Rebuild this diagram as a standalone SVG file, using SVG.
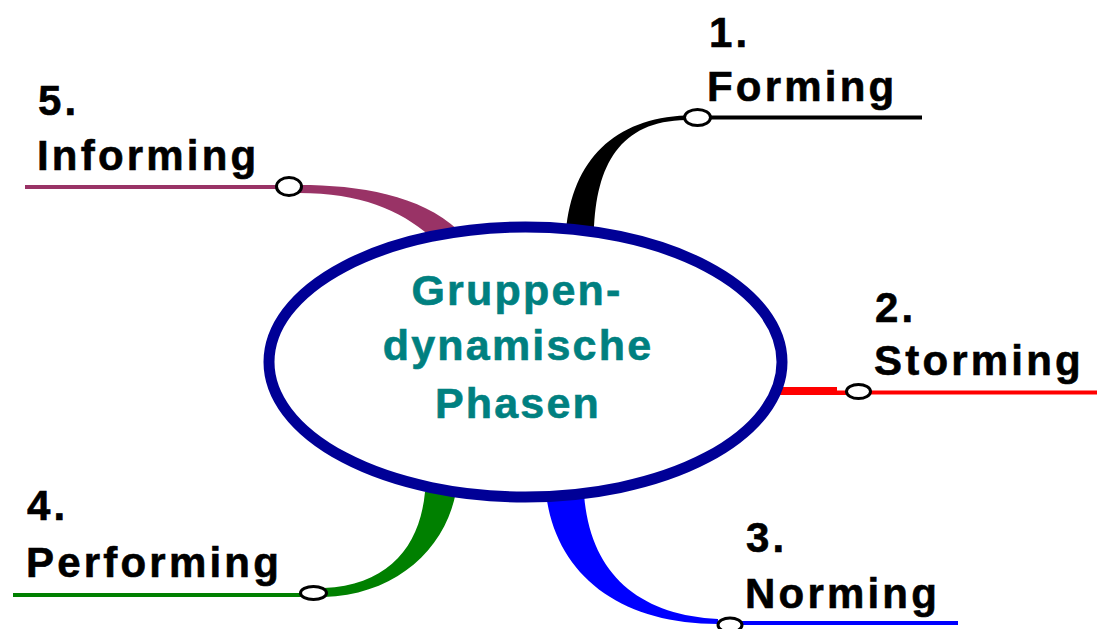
<svg xmlns="http://www.w3.org/2000/svg" width="1097" height="629" viewBox="0 0 1097 629">
  <style>
    .label { font-family: "Liberation Sans", Arial, sans-serif; font-weight: bold; font-size: 42px; letter-spacing: 3.2px; fill: #000000; stroke: #000000; stroke-width: 0.6px; }
    .title { font-family: "Liberation Sans", Arial, sans-serif; font-weight: bold; font-size: 43px; letter-spacing: 2.2px; fill: #008080; stroke: #008080; stroke-width: 0.6px; text-anchor: middle; }
    .port { fill: #ffffff; stroke: #000000; stroke-width: 3; }
    .rule { stroke-width: 4; fill: none; }
    .branch { stroke: none; }
  </style>
  <rect width="1097" height="629" fill="#ffffff"/>

  <!-- tapered branches and the lines under each phase label -->
  <g id="connectors">
    <!-- 1. Forming -->
    <path class="branch" fill="#000000" d="M566,232 C572,160 615,118 686,115.5 L686,120 C620,121 596,165 594,232 Z"/>
    <line class="rule" stroke="#000000" x1="705" y1="117.5" x2="922" y2="117.5"/>
    <!-- 2. Storming -->
    <path class="branch" fill="#ff0000" d="M776,387 L837,387 L837,390.5 L848,390.5 L848,395 L776,395 Z"/>
    <line class="rule" stroke="#ff0000" x1="868" y1="392.5" x2="1097" y2="392.5"/>
    <!-- 3. Norming -->
    <path class="branch" fill="#0000ff" d="M546,494 C556,575 620,624 718,624 L718,619 C640,615 590,575 584,494 Z"/>
    <line class="rule" stroke="#0000ff" x1="740" y1="623" x2="958" y2="623"/>
    <!-- 4. Performing -->
    <path class="branch" fill="#008000" d="M425,492 C420,545 390,585 324,588 L324,597 C395,595 445,550 456,492 Z"/>
    <line class="rule" stroke="#008000" x1="13" y1="595" x2="304" y2="595"/>
    <!-- 5. Informing -->
    <path class="branch" fill="#993366" d="M299,185 C360,185 420,195 458,230 L430,236 C400,210 360,193 299,193 Z"/>
    <line class="rule" stroke="#993366" x1="25" y1="187" x2="280" y2="187"/>
  </g>

  <!-- central topic -->
  <g id="node-center">
    <ellipse cx="525.5" cy="362" rx="256.5" ry="135" fill="#ffffff" stroke="#000096" stroke-width="11"/>
    <text class="title" x="517" y="305">Gruppen-</text>
    <text class="title" x="518" y="360">dynamische</text>
    <text class="title" x="518" y="418">Phasen</text>
  </g>

  <g id="node-forming">
    <ellipse class="port" cx="697.5" cy="117.5" rx="13" ry="8"/>
    <text class="label" x="709" y="47">1.</text>
    <text class="label" x="707" y="101">Forming</text>
  </g>

  <g id="node-storming">
    <ellipse class="port" cx="858.5" cy="391.5" rx="12" ry="7"/>
    <text class="label" x="875" y="322">2.</text>
    <text class="label" x="874" y="375">Storming</text>
  </g>

  <g id="node-norming">
    <ellipse class="port" cx="730" cy="625" rx="12" ry="7"/>
    <text class="label" x="746" y="552">3.</text>
    <text class="label" x="745" y="608">Norming</text>
  </g>

  <g id="node-performing">
    <ellipse class="port" cx="313.5" cy="593" rx="13" ry="6.5"/>
    <text class="label" x="27" y="520">4.</text>
    <text class="label" x="26" y="577">Performing</text>
  </g>

  <g id="node-informing">
    <ellipse class="port" cx="289" cy="186.5" rx="12.5" ry="9"/>
    <text class="label" x="38" y="115">5.</text>
    <text class="label" x="37" y="170">Informing</text>
  </g>
</svg>
